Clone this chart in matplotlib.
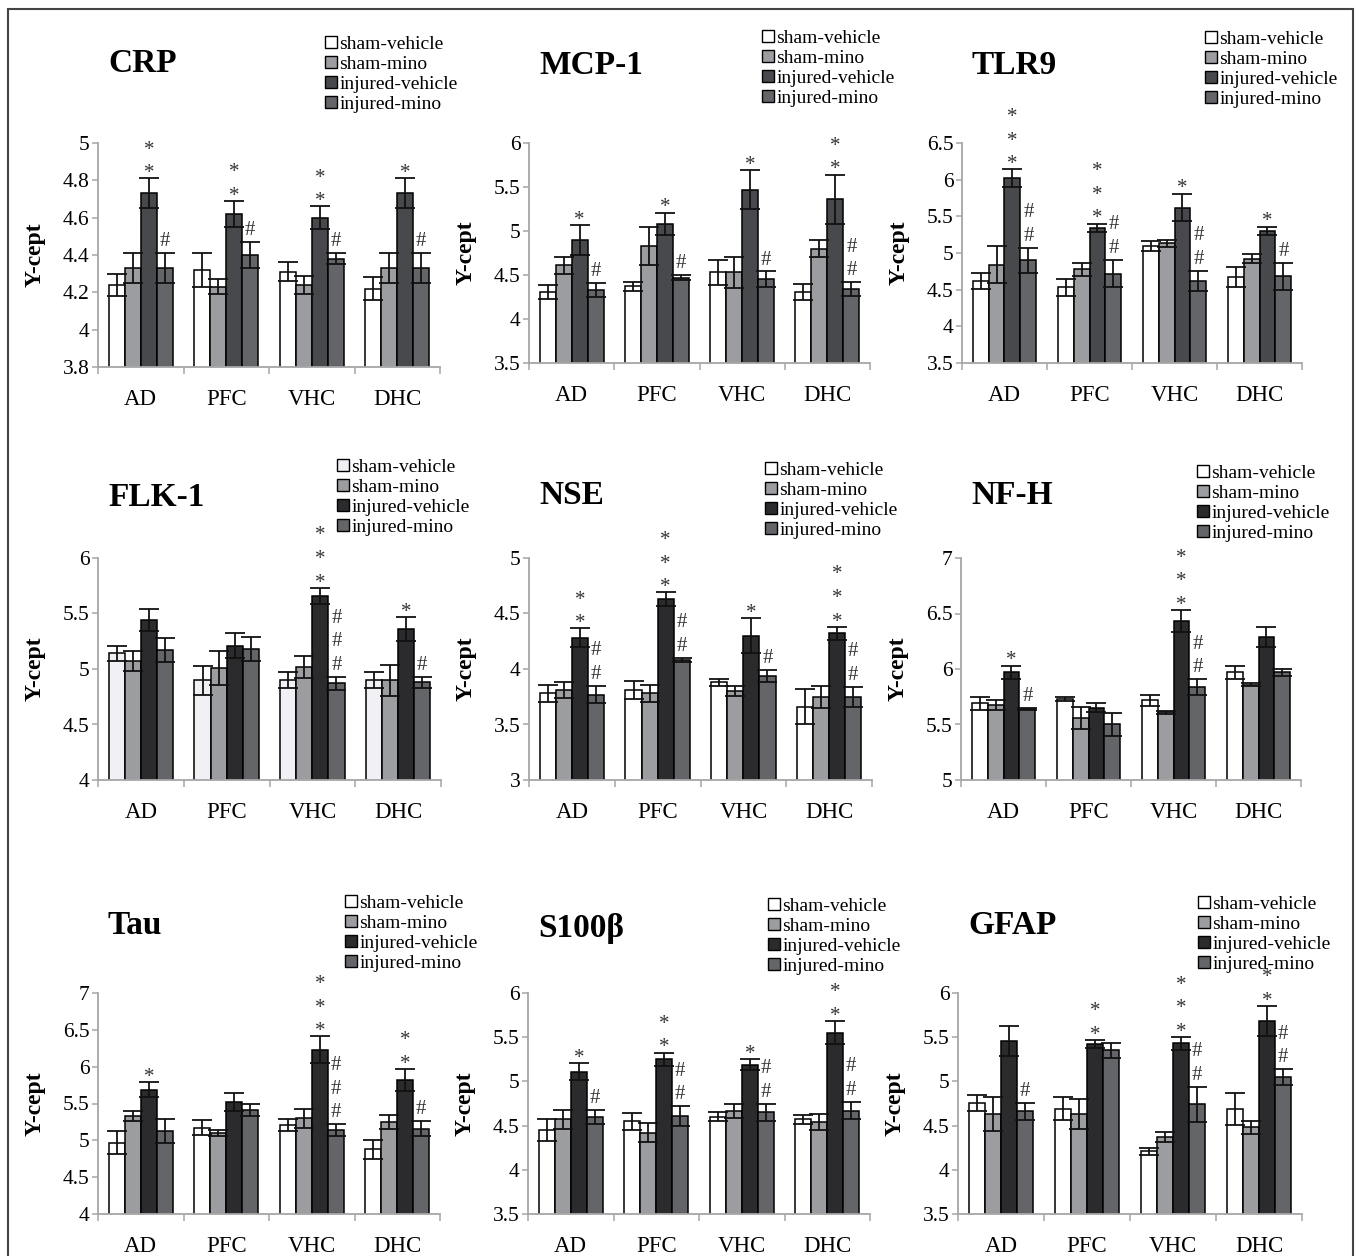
import numpy as np
import matplotlib
matplotlib.use("Agg")
import matplotlib.pyplot as plt
from matplotlib.patches import Rectangle, Patch

plt.rcParams['font.family'] = ['Liberation Serif', 'DejaVu Serif']

regions = ['AD', 'PFC', 'VHC', 'DHC']
groups = ['sham-vehicle', 'sham-mino', 'injured-vehicle', 'injured-mino']

# mean / error per region (rows) and group (columns)
crp_mean = [[4.24, 4.33, 4.73, 4.33], [4.32, 4.23, 4.62, 4.40], [4.31, 4.24, 4.60, 4.38], [4.22, 4.33, 4.73, 4.33]]
crp_err = [[0.06, 0.08, 0.08, 0.08], [0.09, 0.04, 0.07, 0.07], [0.05, 0.05, 0.06, 0.03], [0.06, 0.08, 0.08, 0.08]]
crp_star = [2, 2, 2, 1]
crp_hash = [1, 1, 1, 1]

mcp_mean = [[4.31, 4.61, 4.90, 4.33], [4.37, 4.83, 5.08, 4.47], [4.53, 4.53, 5.47, 4.45], [4.31, 4.80, 5.36, 4.34]]
mcp_err = [[0.08, 0.10, 0.17, 0.08], [0.05, 0.22, 0.13, 0.03], [0.14, 0.18, 0.22, 0.09], [0.09, 0.10, 0.28, 0.08]]
mcp_star = [1, 1, 1, 2]
mcp_hash = [1, 1, 1, 2]

tlr9_mean = [[4.62, 4.84, 6.02, 4.90], [4.53, 4.78, 5.34, 4.72], [5.10, 5.13, 5.62, 4.62], [4.67, 4.92, 5.30, 4.68]]
tlr9_err = [[0.11, 0.25, 0.12, 0.17], [0.11, 0.09, 0.06, 0.19], [0.07, 0.05, 0.19, 0.14], [0.14, 0.06, 0.06, 0.19]]
tlr9_star = [3, 3, 1, 1]
tlr9_hash = [2, 2, 2, 1]

flk_mean = [[5.14, 5.07, 5.44, 5.17], [4.90, 5.01, 5.21, 5.18], [4.90, 5.02, 5.66, 4.87], [4.90, 4.90, 5.36, 4.88]]
flk_err = [[0.07, 0.09, 0.10, 0.11], [0.13, 0.15, 0.11, 0.11], [0.075, 0.10, 0.07, 0.06], [0.075, 0.14, 0.11, 0.05]]
flk_star = [0, 0, 3, 1]
flk_hash = [0, 0, 3, 1]

nse_mean = [[3.78, 3.81, 4.28, 3.77], [3.81, 3.78, 4.63, 4.08], [3.88, 3.80, 4.30, 3.94], [3.66, 3.75, 4.32, 3.75]]
nse_err = [[0.075, 0.075, 0.085, 0.08], [0.08, 0.075, 0.06, 0.02], [0.03, 0.045, 0.16, 0.055], [0.16, 0.10, 0.06, 0.09]]
nse_star = [2, 3, 1, 3]
nse_hash = [2, 2, 1, 2]

nfh_mean = [[5.69, 5.68, 5.97, 5.64], [5.73, 5.56, 5.65, 5.50], [5.72, 5.61, 6.43, 5.84], [5.97, 5.86, 6.29, 5.97]]
nfh_err = [[0.06, 0.045, 0.06, 0.01], [0.02, 0.10, 0.04, 0.10], [0.05, 0.015, 0.10, 0.07], [0.06, 0.01, 0.09, 0.03]]
nfh_star = [1, 0, 3, 0]
nfh_hash = [1, 0, 2, 0]

tau_mean = [[4.97, 5.33, 5.69, 5.13], [5.17, 5.10, 5.52, 5.41], [5.21, 5.30, 6.23, 5.14], [4.88, 5.25, 5.82, 5.16]]
tau_err = [[0.15, 0.07, 0.10, 0.16], [0.10, 0.045, 0.12, 0.08], [0.08, 0.13, 0.18, 0.08], [0.13, 0.09, 0.145, 0.10]]
tau_star = [1, 0, 3, 2]
tau_hash = [0, 0, 3, 1]

s100_mean = [[4.45, 4.57, 5.11, 4.60], [4.55, 4.42, 5.25, 4.61], [4.60, 4.67, 5.19, 4.65], [4.57, 4.54, 5.55, 4.67]]
s100_err = [[0.12, 0.11, 0.095, 0.08], [0.095, 0.11, 0.075, 0.11], [0.05, 0.08, 0.06, 0.10], [0.055, 0.09, 0.13, 0.10]]
s100_star = [1, 2, 1, 2]
s100_hash = [1, 2, 2, 2]

gfap_mean = [[4.76, 4.63, 5.46, 4.66], [4.69, 4.63, 5.42, 5.35], [4.21, 4.37, 5.43, 4.74], [4.69, 4.48, 5.68, 5.05]]
gfap_err = [[0.09, 0.19, 0.17, 0.10], [0.13, 0.17, 0.045, 0.08], [0.04, 0.055, 0.07, 0.20], [0.18, 0.075, 0.17, 0.09]]
gfap_star = [0, 2, 3, 2]
gfap_hash = [1, 0, 2, 2]

W, H = 1356, 1256
fig = plt.figure(figsize=(W / 100, H / 100), dpi=100)

row1_cols = ['#ffffff', '#9c9da1', '#47494d', '#636569']
row2_cols = ['#ffffff', '#9c9da1', '#2b2b2d', '#636569']
flk_cols = ['#f0f0f5', '#9c9da1', '#2b2b2d', '#636569']

# name, data, ylim, ystep, axes rect px (l, t, r, b), title centre y, legend (x, first-row y), colours
panels = [
    ('CRP', crp_mean, crp_err, crp_star, crp_hash, (3.8, 5.0), 0.2, (98, 143, 440, 367), 63, (325, 43), row1_cols),
    ('MCP-1', mcp_mean, mcp_err, mcp_star, mcp_hash, (3.5, 6.0), 0.5, (529, 143, 870, 363), 65, (762, 37), row1_cols),
    ('TLR9', tlr9_mean, tlr9_err, tlr9_star, tlr9_hash, (3.5, 6.5), 0.5, (962, 143, 1302, 363), 65, (1205, 38), row1_cols),
    ('FLK-1', flk_mean, flk_err, flk_star, flk_hash, (4.0, 6.0), 0.5, (98, 558, 441, 780), 497, (337, 466), flk_cols),
    ('NSE', nse_mean, nse_err, nse_star, nse_hash, (3.0, 5.0), 0.5, (529, 558, 872, 780), 495, (765, 469), row2_cols),
    ('NF-H', nfh_mean, nfh_err, nfh_star, nfh_hash, (5.0, 7.0), 0.5, (961, 558, 1301, 780), 495, (1197, 472), row2_cols),
    ('Tau', tau_mean, tau_err, tau_star, tau_hash, (4.0, 7.0), 0.5, (98, 993, 440, 1214), 925, (345, 902), row2_cols),
    ('S100β', s100_mean, s100_err, s100_star, s100_hash, (3.5, 6.0), 0.5, (528, 993, 870, 1214), 928, (768, 905), row2_cols),
    ('GFAP', gfap_mean, gfap_err, gfap_star, gfap_hash, (3.5, 6.0), 0.5, (958, 993, 1302, 1214), 925, (1198, 903), row2_cols),
]

axis_grey = '#a6a6a6'
mark_col = '#333333'
bw = 0.1875
x = np.arange(len(regions))
fs_mark = 15
first_off, step = 8.0, 17.0   # points above error bar top, centre of symbols

for name, mean, err, stars, hashes, ylim, ystep, rect, ty, lpos, cols in panels:
    l, t, r, b = rect
    ax = fig.add_axes([l / W, 1 - b / H, (r - l) / W, (b - t) / H])
    mean = np.array(mean)
    err = np.array(err)
    for g in range(len(groups)):
        ax.bar(x + (g - 1.5) * bw, mean[:, g], bw, color=cols[g], edgecolor='black',
               linewidth=1.1, label=groups[g], zorder=2)
        ax.errorbar(x + (g - 1.5) * bw, mean[:, g], yerr=err[:, g], fmt='none',
                    ecolor='#111111', elinewidth=1.3, capsize=7, capthick=1.3, zorder=3)

    # significance marks: * over injured-vehicle, # over injured-mino
    for i in range(len(regions)):
        top_iv = mean[i, 2] + err[i, 2]
        for k in range(stars[i]):
            ax.annotate('*', xy=(x[i] + 0.5 * bw, top_iv),
                        xytext=(0, first_off + k * step - 0.52 * fs_mark), textcoords='offset points',
                        ha='center', va='baseline', fontsize=fs_mark, color=mark_col,
                        annotation_clip=False)
        top_im = mean[i, 3] + err[i, 3]
        for k in range(hashes[i]):
            ax.annotate('#', xy=(x[i] + 1.5 * bw, top_im),
                        xytext=(0, first_off + 2 + k * step - 0.34 * fs_mark), textcoords='offset points',
                        ha='center', va='baseline', fontsize=fs_mark, color=mark_col,
                        annotation_clip=False)

    ax.set_xlim(-0.5, len(regions) - 0.5)
    ax.set_ylim(*ylim)
    yt = np.arange(ylim[0], ylim[1] + ystep / 2, ystep)
    ax.set_yticks(yt)
    ax.set_yticklabels([f'{v:g}' for v in np.round(yt, 2)], fontsize=15.5)
    ax.set_xticks(x)
    ax.set_xticklabels(regions, fontsize=16.5)
    ax.set_xticks(np.arange(-0.5, len(regions)), minor=True)
    ax.tick_params(axis='x', which='major', length=0, pad=16)
    ax.tick_params(axis='x', which='minor', length=5, width=1.1, color=axis_grey, direction='out')
    ax.tick_params(axis='y', length=4, width=1.1, color=axis_grey, pad=2)
    for s in ('top', 'right'):
        ax.spines[s].set_visible(False)
    for s in ('left', 'bottom'):
        ax.spines[s].set_color(axis_grey)
        ax.spines[s].set_linewidth(1.3)
    ax.set_ylabel('Y-cept', fontsize=17, fontweight='bold', va='center')
    ax.yaxis.set_label_coords(-63 / (r - l), 0.5)

    fig.text((l + 10) / W, 1 - ty / H, name, fontsize=24, fontweight='bold',
             ha='left', va='center')

    handles = [Patch(facecolor=cols[g], edgecolor='black', linewidth=1.0) for g in range(len(groups))]
    ax.legend(handles, groups, loc='upper left',
              bbox_to_anchor=(lpos[0] / W, 1 - (lpos[1] - 7) / H),
              bbox_transform=fig.transFigure, frameon=False, fontsize=14,
              handlelength=0.6, handleheight=0.6, handletextpad=0.15,
              labelspacing=0.15, borderpad=0, borderaxespad=0)

fig.patches.append(Rectangle((8 / W, -0.01), (1353 - 8) / W, (H - 9) / H + 0.01,
                             transform=fig.transFigure, fill=False,
                             edgecolor='#444444', linewidth=1.5))

fig.savefig('out.png', dpi=100)
